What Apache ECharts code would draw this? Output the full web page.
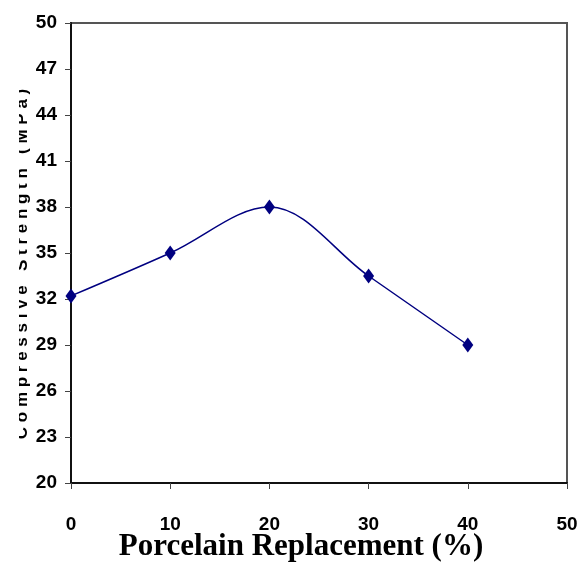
<!DOCTYPE html>
<html>
<head>
<meta charset="utf-8">
<script src="https://cdn.jsdelivr.net/npm/echarts@6/dist/echarts.min.js"></script>
<style>
  html, body { margin: 0; padding: 0; background: #fff; }
  #main { width: 583px; height: 565px; }
</style>
</head>
<body>
<div id="main"></div>
<script>
// data
var replacement = [0, 10, 20, 30, 40]
var strength = [32.2, 35, 38, 33.5, 29]
var yTicks = [20, 23, 26, 29, 32, 35, 38, 41, 44, 47, 50]

var points = replacement.map(function (x, i) { return [x, strength[i]] })

var myChart = echarts.init(document.getElementById('main'))

var tickFont = {
  fontFamily: 'Liberation Sans Narrow, Arial Narrow, Liberation Sans, sans-serif',
  fontWeight: 'bold',
  fontSize: 19,
  color: '#000'
}

myChart.setOption({
  animation: false,
  grid: {
    left: 71,
    right: 16,
    top: 23,
    bottom: 82,
    show: true,
    borderColor: '#555',
    borderWidth: 2,
    backgroundColor: '#fff'
  },
  xAxis: {
    type: 'value',
    min: 0,
    max: 50,
    interval: 10,
    axisLine: { lineStyle: { color: '#111', width: 2 } },
    axisTick: { show: true, length: 6, inside: false, lineStyle: { color: '#444', width: 1 } },
    axisLabel: Object.assign({ margin: 32 }, tickFont),
    splitLine: { show: false }
  },
  yAxis: {
    type: 'value',
    min: yTicks[0],
    max: yTicks[yTicks.length - 1],
    interval: 3,
    axisLine: { show: true, lineStyle: { color: '#111', width: 2 } },
    axisTick: { show: true, length: 6, lineStyle: { color: '#444', width: 1 } },
    axisLabel: Object.assign({ margin: 14 }, tickFont),
    splitLine: { show: false }
  },
  graphic: [
    {
      type: 'text',
      x: 301,
      y: 562,
      style: {
        text: 'Porcelain Replacement (%)',
        font: 'bold 31px "Liberation Serif", "Times New Roman", serif',
        fill: '#000',
        align: 'center',
        verticalAlign: 'bottom'
      }
    },
    {
      // axis title, its top half is cut off like in the original
      type: 'text',
      x: 22,
      y: 264,
      rotation: Math.PI / 2,
      style: {
        text: 'C o m p r e s s i v e   S t r e n g t h   ( M P a )',
        font: 'bold 17px "Liberation Sans", Arial, sans-serif',
        fill: '#000',
        align: 'center',
        verticalAlign: 'middle'
      }
    },
    {
      type: 'rect',
      shape: { x: 0, y: 60, width: 19, height: 400 },
      style: { fill: '#fff' },
      z: 200
    }
  ],
  series: [{
    type: 'line',
    data: points,
    smooth: 0.35,
    symbol: 'diamond',
    symbolSize: [11, 15],
    lineStyle: { color: '#000080', width: 1.5 },
    itemStyle: { color: '#000080' }
  }]
})
</script>
</body>
</html>
